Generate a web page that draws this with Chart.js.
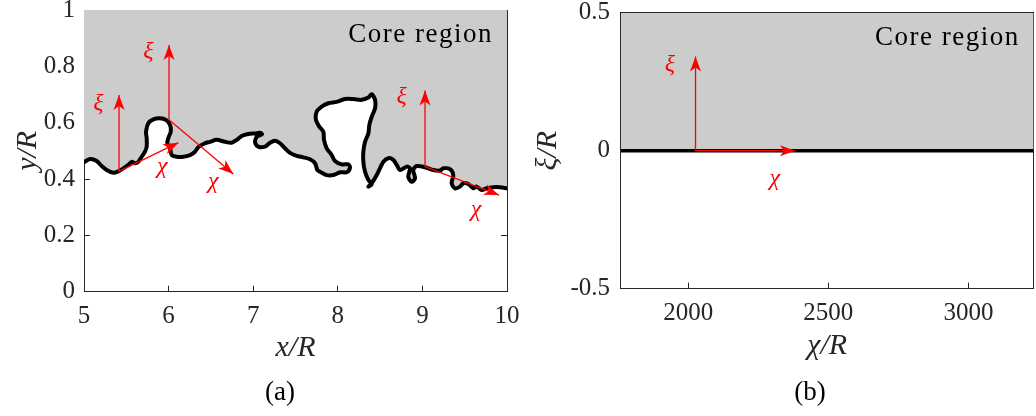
<!DOCTYPE html>
<html>
<head>
<meta charset="utf-8">
<script src="https://cdn.jsdelivr.net/npm/chart.js@4.4.1/dist/chart.umd.min.js"></script>
<style>
  html, body { margin: 0; padding: 0; background: #fff; overflow: hidden; width: 1036px; height: 416px; }
  canvas { position: absolute; top: 0; }
  #chartA { left: 0; }
  #chartB { left: 520px; }
</style>
</head>
<body>
<canvas id="chartA" width="560" height="416"></canvas>
<canvas id="chartB" width="600" height="416"></canvas>
<script>
const SERIF = '"Liberation Serif", "Times New Roman", serif';
const INK = '#262626';
const CORE_GREY = '#cccccc';
const RED = '#ff0000';

// ---- panel (a): x/R vs y/R ----
const xRangeA = [5, 10];
const yRangeA = [0, 1];
const xTicksA = [5, 6, 7, 8, 9, 10];
const yTicksA = [0, 0.2, 0.4, 0.6, 0.8, 1];
// interface between core region (above) and outer flow (below), traced in order
const frontX = [5.000, 5.071, 5.150, 5.209, 5.268, 5.346, 5.405, 5.465, 5.524, 5.564,
  5.603, 5.642, 5.682, 5.721, 5.741, 5.741, 5.733, 5.760, 5.819, 5.898,
  5.969, 6.017, 6.025, 5.996, 5.985, 6.017, 6.037, 6.095, 6.174, 6.253,
  6.312, 6.351, 6.430, 6.489, 6.569, 6.667, 6.746, 6.805, 6.864, 6.942,
  7.021, 7.080, 7.104, 7.057, 7.041, 7.021, 7.060, 7.139, 7.199, 7.258,
  7.317, 7.376, 7.435, 7.514, 7.592, 7.671, 7.731, 7.758, 7.790, 7.869,
  7.947, 8.026, 8.105, 8.144, 8.124, 8.046, 7.967, 7.928, 7.869, 7.837,
  7.829, 7.781, 7.742, 7.750, 7.810, 7.888, 7.987, 8.085, 8.183, 8.282,
  8.361, 8.401, 8.440, 8.440, 8.401, 8.373, 8.361, 8.322, 8.302, 8.302,
  8.322, 8.361, 8.401, 8.361, 8.401, 8.460, 8.538, 8.597, 8.656, 8.697,
  8.735, 8.814, 8.853, 8.833, 8.873, 8.913, 8.892, 8.933, 9.031, 9.129,
  9.208, 9.247, 9.326, 9.365, 9.346, 9.385, 9.444, 9.484, 9.543, 9.602,
  9.641, 9.700, 9.759, 9.837, 9.917, 10.000];
const frontY = [0.460, 0.471, 0.464, 0.446, 0.432, 0.422, 0.427, 0.438, 0.450, 0.461,
  0.456, 0.461, 0.479, 0.497, 0.515, 0.545, 0.568, 0.598, 0.612, 0.616,
  0.610, 0.592, 0.568, 0.545, 0.527, 0.509, 0.485, 0.479, 0.479, 0.485,
  0.497, 0.513, 0.527, 0.532, 0.539, 0.532, 0.529, 0.539, 0.553, 0.560,
  0.562, 0.564, 0.559, 0.553, 0.550, 0.532, 0.515, 0.515, 0.529, 0.536,
  0.527, 0.509, 0.493, 0.482, 0.477, 0.470, 0.456, 0.432, 0.426, 0.414,
  0.414, 0.424, 0.424, 0.440, 0.452, 0.452, 0.464, 0.485, 0.509, 0.539,
  0.568, 0.586, 0.610, 0.639, 0.657, 0.669, 0.674, 0.684, 0.684, 0.681,
  0.689, 0.701, 0.681, 0.651, 0.621, 0.592, 0.562, 0.532, 0.497, 0.461,
  0.426, 0.397, 0.381, 0.373, 0.385, 0.414, 0.461, 0.474, 0.468, 0.450,
  0.432, 0.444, 0.438, 0.408, 0.390, 0.403, 0.432, 0.446, 0.442, 0.432,
  0.430, 0.438, 0.435, 0.414, 0.385, 0.367, 0.373, 0.385, 0.382, 0.367,
  0.373, 0.361, 0.367, 0.371, 0.371, 0.367];
// local (chi, xi) frames drawn on the interface
const frameX = [5.414, 6.005, 9.031];
const frameY = [0.427, 0.610, 0.444];
const xiTipY = [0.698, 0.876, 0.714];
const chiTipX = [6.115, 6.765, 9.905];
const chiTipY = [0.529, 0.418, 0.343];
const xiLabelX = [5.169, 5.760, 8.755];
const xiLabelY = [0.666, 0.852, 0.692];
const chiLabelX = [5.926, 6.528, 9.634];
const chiLabelY = [0.444, 0.390, 0.290];

// ---- panel (b): chi/R vs xi/R ----
const chiRange = [1759, 3233];
const xiRange = [-0.5, 0.5];
const chiTicksB = [2000, 2500, 3000];
const xiTicksB = [-0.5, 0, 0.5];
const frameChiB = 2026;
const xiTipB = 0.341;
const chiTipB = 2381;
const xiLabelB = [1935, 0.31];
const chiLabelB = [2309, -0.10];

// arrowheads at the end of every dataset flagged with arrow: true
const arrowHeads = {
  id: 'arrowHeads',
  afterDatasetsDraw(chart) {
    const ctx = chart.ctx;
    chart.data.datasets.forEach((ds, i) => {
      if (!ds.arrow) return;
      const pts = chart.getDatasetMeta(i).data;
      const a = pts[0], b = pts[1];
      const ang = Math.atan2(b.y - a.y, b.x - a.x);
      ctx.save();
      ctx.translate(b.x, b.y);
      ctx.rotate(ang);
      ctx.fillStyle = ds.borderColor;
      ctx.beginPath();
      ctx.moveTo(0, 0);
      ctx.lineTo(-15, -5.5);
      ctx.lineTo(-11, 0);
      ctx.lineTo(-15, 5.5);
      ctx.closePath();
      ctx.fill();
      ctx.restore();
    });
  }
};

// symbol labels placed in data coordinates + the corner "Core region" note
const textMarks = {
  id: 'textMarks',
  afterDatasetsDraw(chart, args, opts) {
    const { ctx, chartArea, scales } = chart;
    ctx.save();
    for (const t of opts.items || []) {
      ctx.font = 'italic 24px ' + SERIF;
      ctx.fillStyle = RED;
      ctx.textAlign = 'center';
      ctx.textBaseline = 'middle';
      ctx.fillText(t.text, scales.x.getPixelForValue(t.x), scales.y.getPixelForValue(t.y));
    }
    if (opts.corner) {
      ctx.font = '27px ' + SERIF;
      ctx.fillStyle = '#000';
      ctx.textAlign = 'right';
      ctx.textBaseline = 'alphabetic';
      ctx.letterSpacing = '1.5px';
      ctx.fillText(opts.corner, chartArea.right - 14, chartArea.top + 32);
    }
    ctx.restore();
  }
};

Chart.register(arrowHeads, textMarks);

function axis(pos, range, tickValues, o = {}) {
  const horiz = pos === 'top' || pos === 'bottom';
  return {
    type: 'linear', position: pos, axis: horiz ? 'x' : 'y',
    min: range[0], max: range[1],
    ticks: {
      display: !!o.labels, padding: o.pad || 0,
      maxRotation: 0, autoSkip: false, color: INK,
      font: { family: SERIF, size: 25 },
      callback: v => String(Math.round(v * 10) / 10)
    },
    afterBuildTicks: s => { s.ticks = tickValues.map(value => ({ value })); },
    grid: { drawOnChartArea: false, drawTicks: o.ticks !== false, tickLength: -6, color: INK, lineWidth: 1 },
    border: { display: true, color: INK, width: 1 },
    title: o.title
      ? { display: true, text: o.title, color: INK, font: { family: SERIF, size: 30, style: 'italic' }, padding: o.titlePad }
      : { display: false },
    afterFit: s => {
      if (horiz) s.height = o.size; else s.width = o.size;
      s.paddingLeft = s.paddingRight = s.paddingTop = s.paddingBottom = 0;
    }
  };
}

function arrow(x0, y0, x1, y1) {
  return {
    data: [{ x: x0, y: y0 }, { x: x1, y: y1 }], arrow: true,
    borderColor: RED, borderWidth: 1.3, pointRadius: 0, fill: false, order: 0
  };
}

function caption(text) {
  return {
    display: true, position: 'bottom', text, color: '#000',
    font: { family: SERIF, size: 27, weight: 'normal' },
    padding: { top: 5.1, bottom: 6.8 }
  };
}

const common = {
  responsive: false, animation: false, events: [], devicePixelRatio: 1
};

// ---------- (a) ----------
const front = frontX.map((x, i) => ({ x, y: frontY[i] }));
const arrowsA = [];
frameX.forEach((x, i) => {
  arrowsA.push(arrow(x, frameY[i], x, xiTipY[i]));
  arrowsA.push(arrow(x, frameY[i], chiTipX[i], chiTipY[i]));
});
const labelsA = [];
xiLabelX.forEach((x, i) => labelsA.push({ text: 'ξ', x, y: xiLabelY[i] }));
chiLabelX.forEach((x, i) => labelsA.push({ text: 'χ', x, y: chiLabelY[i] }));

new Chart(document.getElementById('chartA'), {
  type: 'line',
  data: {
    datasets: [
      {
        data: [...front, { x: xRangeA[1], y: yRangeA[1] }, { x: xRangeA[0], y: yRangeA[1] }],
        fill: 'shape', backgroundColor: CORE_GREY, borderColor: 'rgba(0,0,0,0)',
        borderWidth: 0, pointRadius: 0, tension: 0.3, order: 3
      },
      {
        data: front, fill: false, borderColor: '#000', borderWidth: 4,
        borderJoinStyle: 'round', borderCapStyle: 'round', pointRadius: 0, tension: 0.3, order: 2
      },
      ...arrowsA
    ]
  },
  options: {
    ...common,
    layout: { padding: { left: 10, right: 10, top: 0, bottom: 0 } },
    scales: {
      x: axis('bottom', xRangeA, xTicksA, { labels: true, pad: 15.5, size: 80, title: 'x/R', titlePad: { top: 0, bottom: 6 } }),
      x2: axis('top', xRangeA, xTicksA, { size: 10 }),
      y: axis('left', yRangeA, yTicksA, { labels: true, pad: 15, size: 74, title: 'y/R', titlePad: { top: 0, bottom: 0 } }),
      y2: axis('right', yRangeA, yTicksA, { size: 43 })
    },
    plugins: {
      legend: { display: false },
      tooltip: { enabled: false },
      title: caption('(a)'),
      textMarks: { items: labelsA, corner: 'Core region' }
    }
  }
});

// ---------- (b) ----------
new Chart(document.getElementById('chartB'), {
  type: 'line',
  data: {
    datasets: [
      {
        data: [{ x: chiRange[0], y: 0 }, { x: chiRange[1], y: 0 }],
        fill: 'end', backgroundColor: CORE_GREY, borderColor: '#000', borderWidth: 3.5,
        pointRadius: 0, order: 2
      },
      arrow(frameChiB, 0, frameChiB, xiTipB),
      arrow(frameChiB, 0, chiTipB, 0)
    ]
  },
  options: {
    ...common,
    layout: { padding: { left: 10, right: 30, top: 0, bottom: 0 } },
    scales: {
      x: axis('bottom', chiRange, chiTicksB, { labels: true, pad: 15.5, size: 83, title: 'χ/R', titlePad: { top: 0, bottom: 8 } }),
      x2: axis('top', chiRange, chiTicksB, { size: 12.7, ticks: false }),
      y: axis('left', xiRange, xiTicksB, { labels: true, pad: 16.7, size: 90.7, title: 'ξ/R', titlePad: { top: 0, bottom: 0 } }),
      y2: axis('right', xiRange, xiTicksB, { size: 56.3, ticks: false })
    },
    plugins: {
      legend: { display: false },
      tooltip: { enabled: false },
      title: caption('(b)'),
      textMarks: {
        items: [
          { text: 'ξ', x: xiLabelB[0], y: xiLabelB[1] },
          { text: 'χ', x: chiLabelB[0], y: chiLabelB[1] }
        ],
        corner: 'Core region'
      }
    }
  }
});
</script>
</body>
</html>
